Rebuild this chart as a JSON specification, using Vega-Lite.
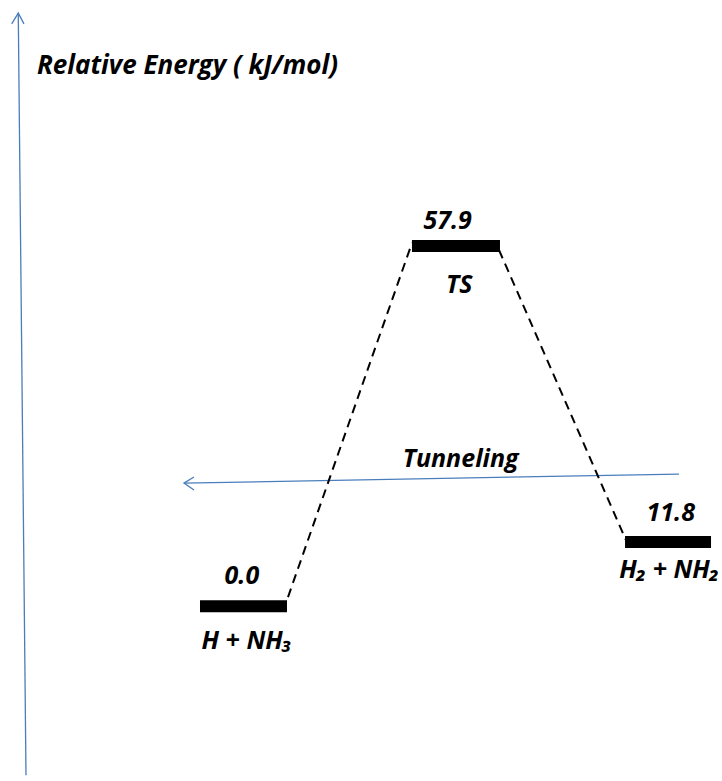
{
  "$schema": "https://vega.github.io/schema/vega-lite/v6.json",
  "width": 722,
  "height": 781,
  "autosize": {"type": "fit", "contains": "padding"},
  "padding": 0,
  "background": "white",
  "config": {"view": {"stroke": null}},
  "encoding": {
    "x": {"type": "quantitative", "scale": {"domain": [0, 100], "nice": false, "zero": false}, "axis": null},
    "y": {"type": "quantitative", "scale": {"domain": [-28.1, 97.4], "nice": false, "zero": false}, "axis": null}
  },
  "layer": [
    {
      "data": {"values": [
        {"seg": "axis", "ord": 1, "x": 2.53, "y": 95.34},
        {"seg": "axis", "ord": 2, "x": 3.60, "y": -27.17},
        {"seg": "axishead", "ord": 1, "x": 1.62, "y": 93.57},
        {"seg": "axishead", "ord": 2, "x": 2.53, "y": 95.29},
        {"seg": "axishead", "ord": 3, "x": 3.32, "y": 93.57},
        {"seg": "tun", "ord": 1, "x": 94.04, "y": 21.22},
        {"seg": "tun", "ord": 2, "x": 25.48, "y": 19.77},
        {"seg": "tunhead", "ord": 1, "x": 26.87, "y": 20.74},
        {"seg": "tunhead", "ord": 2, "x": 25.48, "y": 19.77},
        {"seg": "tunhead", "ord": 3, "x": 26.87, "y": 18.65}
      ]},
      "mark": {"type": "line", "color": "#4a7ebb", "strokeWidth": 1.3},
      "encoding": {
        "x": {"field": "x", "type": "quantitative"},
        "y": {"field": "y", "type": "quantitative"},
        "detail": {"field": "seg"},
        "order": {"field": "ord"}
      }
    },
    {
      "data": {"values": [
        {"seg": "left", "ord": 1, "x": 39.89, "y": 1.45},
        {"seg": "left", "ord": 2, "x": 57.06, "y": 58.36},
        {"seg": "right", "ord": 1, "x": 69.11, "y": 57.23},
        {"seg": "right", "ord": 2, "x": 86.70, "y": 10.61}
      ]},
      "mark": {"type": "line", "color": "black", "strokeWidth": 2, "strokeDash": [9, 6]},
      "encoding": {
        "x": {"field": "x", "type": "quantitative"},
        "y": {"field": "y", "type": "quantitative"},
        "detail": {"field": "seg"},
        "order": {"field": "ord"}
      }
    },
    {
      "data": {"values": [
        {"state": "H + NH3", "x1": 27.70, "x2": 39.75, "y": 0.0},
        {"state": "TS", "x1": 57.06, "x2": 69.25, "y": 57.88},
        {"state": "H2 + NH2", "x1": 86.57, "x2": 98.48, "y": 10.29}
      ]},
      "mark": {"type": "rule", "color": "black", "strokeWidth": 12, "strokeCap": "butt"},
      "encoding": {
        "x": {"field": "x1", "type": "quantitative"},
        "x2": {"field": "x2"},
        "y": {"field": "y", "type": "quantitative"}
      }
    },
    {
      "data": {"values": [
        {"label": "0.0", "x": 33.5, "y": 4.82},
        {"label": "H + NH₃", "x": 34.2, "y": -5.6},
        {"label": "57.9", "x": 62.0, "y": 61.9},
        {"label": "TS", "x": 63.6, "y": 51.6},
        {"label": "11.8", "x": 92.9, "y": 14.9},
        {"label": "H₂ + NH₂", "x": 92.7, "y": 5.8},
        {"label": "Tunneling", "x": 63.8, "y": 23.63}
      ]},
      "mark": {"type": "text", "font": "Open Sans", "fontSize": 25, "fontWeight": "bold", "fontStyle": "italic", "align": "center", "baseline": "middle", "color": "black"},
      "encoding": {
        "x": {"field": "x", "type": "quantitative"},
        "y": {"field": "y", "type": "quantitative"},
        "text": {"field": "label"}
      }
    },
    {
      "data": {"values": [
        {"label": "Relative Energy ( kJ/mol)", "x": 5.12, "y": 86.8}
      ]},
      "mark": {"type": "text", "font": "Open Sans", "fontSize": 26, "fontWeight": "bold", "fontStyle": "italic", "align": "left", "baseline": "middle", "color": "black"},
      "encoding": {
        "x": {"field": "x", "type": "quantitative"},
        "y": {"field": "y", "type": "quantitative"},
        "text": {"field": "label"}
      }
    }
  ]
}
